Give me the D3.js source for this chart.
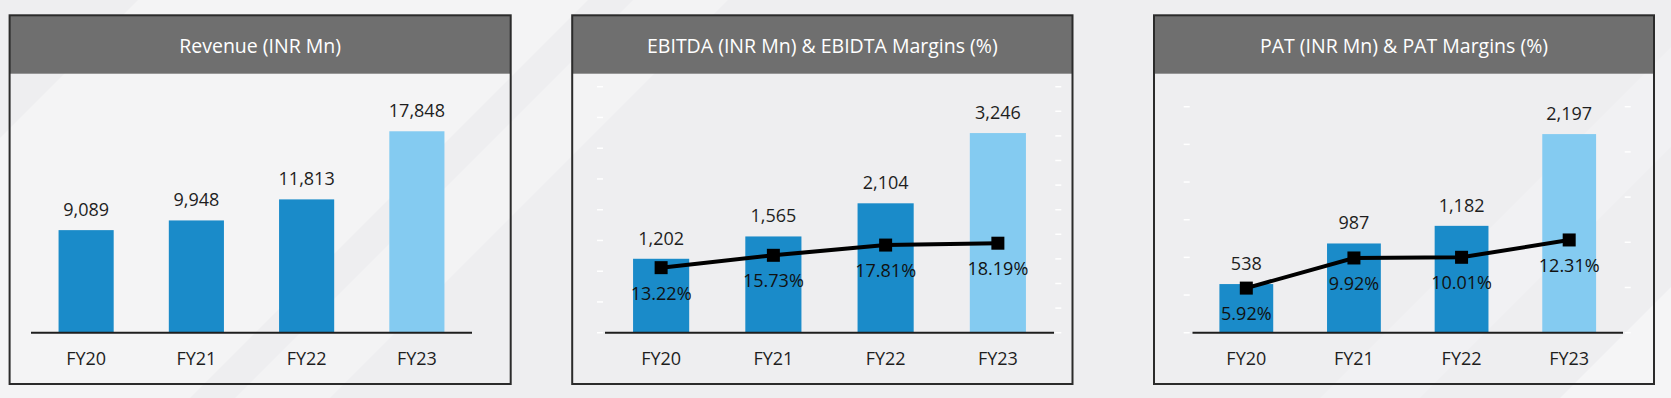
<!DOCTYPE html>
<html>
<head>
<meta charset="utf-8">
<script src="https://cdn.jsdelivr.net/npm/d3@7"></script>
<style>
  html, body { margin: 0; padding: 0; background: #eeeef0; }
  svg { display: block; font-family: "Open Sans", "Noto Sans", sans-serif; }
</style>
</head>
<body>
<div id="chart"></div>
<script>
// chart values
const years = ["FY20", "FY21", "FY22", "FY23"];
const revenue = [9089, 9948, 11813, 17848];
const ebitda = [1202, 1565, 2104, 3246];
const ebitdaMargin = [13.22, 15.73, 17.81, 18.19];
const pat = [538, 987, 1182, 2197];
const patMargin = [5.92, 9.92, 10.01, 12.31];
const titles = ["Revenue (INR Mn)", "EBITDA (INR Mn) & EBIDTA Margins (%)", "PAT (INR Mn) & PAT Margins (%)"];
const highlightYear = "FY23";

const W = 1671, H = 398;
const darkBlue = "#1a8bc9", lightBlue = "#84cbf1";

/* panel layout: border box, axis line span, value axes */
const panels = [
	{ title: titles[0], bars: revenue, line: null,
	  box: [9.6, 510.7], axis: [31, 472], barMax: 20000, top: 107,
	  ticks: null },
	{ title: titles[1], bars: ebitda, line: ebitdaMargin,
	  box: [572.2, 1072.5], axis: [605, 1054], barMax: 4000, lineMax: 50, top: 86.7,
	  ticks: { left: 600, right: 1058.3, n: 8, nR: 10 } },
	{ title: titles[2], bars: pat, line: patMargin,
	  box: [1154, 1654], axis: [1192.5, 1623], barMax: 2500, lineMax: 30, top: 106.7,
	  ticks: { left: 1186.7, right: 1627.7, n: 6, nR: 5 } }
];

const boxTop = 15.3, boxBottom = 384, headerBottom = 73.7, baseY = 332.7, catY = 357.7;

const svg = d3.select("#chart").append("svg")
	.attr("width", W)
	.attr("height", H);

/* soft diagonal light streaks on the grey backdrop */
svg.append("rect").attr("width", W).attr("height", H).attr("fill", "#eeeef0");
const streaks = [
	{ x0: -260, x1: 190, o: 0.35 },
	{ x0: 235, x1: 330, o: 0.3 },
	{ x0: 1320, x1: 1420, o: 0.2 },
	{ x0: 1560, x1: 1700, o: 0.4 }
];
svg.append("g").selectAll("polygon")
	.data(streaks)
	.join("polygon")
		.attr("points", d => [[d.x0, H], [d.x1, H], [d.x1 + H, 0], [d.x0 + H, 0]].join(" "))
		.attr("fill", "#ffffff")
		.attr("opacity", d => d.o);

panels.forEach(p => {
	const g = svg.append("g");
	const data = years.map((y, i) => ({ year: y, value: p.bars[i], margin: p.line ? p.line[i] : null }));

	/* header */
	g.append("rect")
		.attr("x", p.box[0]).attr("y", boxTop)
		.attr("width", p.box[1] - p.box[0]).attr("height", headerBottom - boxTop)
		.attr("fill", "#6f6f6f");
	g.append("text")
		.attr("x", (p.box[0] + p.box[1]) / 2).attr("y", (boxTop + headerBottom) / 2 + 1)
		.attr("text-anchor", "middle").attr("dominant-baseline", "central")
		.attr("fill", "#ffffff").attr("font-size", 19.5)
		.text(p.title);

	const x = d3.scaleBand().domain(years).range(p.axis).paddingInner(0.5).paddingOuter(0.25);
	const y = d3.scaleLinear().domain([0, p.barMax]).range([baseY, p.top]);

	/* faint white tick dashes of the hidden value axes */
	if (p.ticks) {
		const yR = d3.scaleLinear().domain([0, p.lineMax]).range([baseY, p.top]);
		const lt = d3.range(0, p.ticks.n + 1).map(k => y(p.barMax * k / p.ticks.n));
		const rt = d3.range(0, p.ticks.nR + 1).map(k => yR(p.lineMax * k / p.ticks.nR));
		g.append("g").selectAll("line.l").data(lt).join("line")
			.attr("x1", p.ticks.left - 3).attr("x2", p.ticks.left + 3)
			.attr("y1", d => d).attr("y2", d => d)
			.attr("stroke", "#ffffff").attr("stroke-width", 1.5);
		g.append("g").selectAll("line.r").data(rt).join("line")
			.attr("x1", p.ticks.right - 3).attr("x2", p.ticks.right + 3)
			.attr("y1", d => d).attr("y2", d => d)
			.attr("stroke", "#ffffff").attr("stroke-width", 1.5);
	}

	g.selectAll(".bar")
		.data(data)
		.join("rect")
			.attr("class", "bar")
			.attr("x", d => x(d.year))
			.attr("y", d => y(d.value))
			.attr("width", x.bandwidth())
			.attr("height", d => baseY - y(d.value))
			.attr("fill", d => d.year === highlightYear ? lightBlue : darkBlue);

	g.selectAll(".val")
		.data(data)
		.join("text")
			.attr("class", "val")
			.attr("x", d => x(d.year) + x.bandwidth() / 2)
			.attr("y", d => y(d.value) - 21)
			.attr("text-anchor", "middle").attr("dominant-baseline", "central")
			.attr("font-size", 18).attr("fill", "#1e1e1e")
			.text(d => d3.format(",")(d.value));

	/* axis line and category labels */
	g.append("line")
		.attr("x1", p.axis[0]).attr("x2", p.axis[1])
		.attr("y1", baseY).attr("y2", baseY)
		.attr("stroke", "#1e1e1e").attr("stroke-width", 2);
	g.selectAll(".cat")
		.data(years)
		.join("text")
			.attr("class", "cat")
			.attr("x", d => x(d) + x.bandwidth() / 2)
			.attr("y", catY)
			.attr("text-anchor", "middle").attr("dominant-baseline", "central")
			.attr("font-size", 18).attr("fill", "#1e1e1e")
			.text(d => d);

	if (p.line) {
		const yR = d3.scaleLinear().domain([0, p.lineMax]).range([baseY, p.top]);
		const cx = d => x(d.year) + x.bandwidth() / 2;
		g.append("path")
			.datum(data)
			.attr("fill", "none").attr("stroke", "#000000").attr("stroke-width", 4)
			.attr("d", d3.line().x(cx).y(d => yR(d.margin)));
		g.selectAll(".mk")
			.data(data)
			.join("rect")
				.attr("class", "mk")
				.attr("x", d => cx(d) - 6.5).attr("y", d => yR(d.margin) - 6.5)
				.attr("width", 13).attr("height", 13)
				.attr("fill", "#000000");
		g.selectAll(".pct")
			.data(data)
			.join("text")
				.attr("class", "pct")
				.attr("x", cx)
				.attr("y", d => yR(d.margin) + 25)
				.attr("text-anchor", "middle").attr("dominant-baseline", "central")
				.attr("font-size", 18).attr("fill", "#111111")
				.text(d => d3.format(".2f")(d.margin) + "%");
	}

	/* panel frame */
	g.append("rect")
		.attr("x", p.box[0]).attr("y", boxTop)
		.attr("width", p.box[1] - p.box[0]).attr("height", boxBottom - boxTop)
		.attr("fill", "none").attr("stroke", "#2b2b2b").attr("stroke-width", 2);
});
</script>
</body>
</html>
